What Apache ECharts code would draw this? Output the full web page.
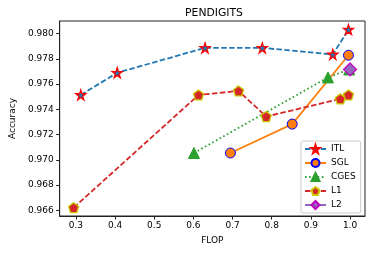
<!DOCTYPE html>
<html><head><meta charset="utf-8">
<script src="https://cdn.jsdelivr.net/npm/echarts@6/dist/echarts.min.js"></script>
<style>html,body{margin:0;padding:0;background:#fff}#c{width:374px;height:253px}</style>
</head><body><div id="c"></div>
<script>
const title = 'PENDIGITS';
const xTicks = [0.3, 0.4, 0.5, 0.6, 0.7, 0.8, 0.9, 1.0];
const yTicks = [0.966, 0.968, 0.970, 0.972, 0.974, 0.976, 0.978, 0.980];
const itlX = [0.3125, 0.4055, 0.6297, 0.7759, 0.956, 0.996];
const itlY = [0.97514, 0.9769, 0.97887, 0.97887, 0.97835, 0.98032];
const sglX = [0.6945, 0.8523, 0.996];
const sglY = [0.97054, 0.97283, 0.97829];
const cgesX = [0.6015, 0.9437, 0.998];
const cgesY = [0.97054, 0.97653, 0.97716];
const l1X = [0.2942, 0.6131, 0.7153, 0.7859, 0.9752, 0.996];
const l1Y = [0.96621, 0.97514, 0.97546, 0.97343, 0.97483, 0.97514];
const l2X = [1.0];
const l2Y = [0.97716];

const zip = (xs, ys) => xs.map((x, i) => [x, ys[i]]);
const STAR = 'path://M50,0 L61.2,34.5 L97.6,34.5 L68.2,55.9 L79.4,90.5 L50,69.1 L20.6,90.5 L31.8,55.9 L2.4,34.5 L38.8,34.5 Z';
const PENT = 'path://M50,0 L97.6,34.5 L79.4,90.5 L20.6,90.5 L2.4,34.5 Z';
const FONT = 'DejaVu Sans';

const chart = echarts.init(document.getElementById('c'), null, {renderer: 'canvas'});
chart.setOption({
  animation: false,
  textStyle: {fontFamily: FONT},
  title: {text: title, left: 209, top: 3, textAlign: 'center',
    textStyle: {fontFamily: FONT, fontSize: 10.8, fontWeight: 'normal', color: '#000'}},
  grid: {left: 53, right: 9, top: 21, bottom: 37, show: true, borderColor: '#222', borderWidth: 1, containLabel: false},
  xAxis: {
    type: 'value', min: 0.2585, max: 1.0382,
    name: 'FLOP', nameLocation: 'middle', nameGap: 20,
    nameTextStyle: {fontFamily: FONT, fontSize: 9, color: '#000'},
    axisLine: {show: true, lineStyle: {color: '#222'}},
    axisTick: {show: true, length: 3.5, lineStyle: {color: '#222'}, customValues: xTicks},
    axisLabel: {fontFamily: FONT, fontSize: 9, color: '#000', margin: 5, customValues: xTicks,
      formatter: v => v.toFixed(1)},
    splitLine: {show: false}
  },
  yAxis: {
    type: 'value', min: 0.96555, max: 0.981,
    name: 'Accuracy', nameLocation: 'middle', nameGap: 42,
    nameTextStyle: {fontFamily: FONT, fontSize: 9, color: '#000'},
    axisLine: {show: true, lineStyle: {color: '#222'}},
    axisTick: {show: true, length: 3.5, lineStyle: {color: '#222'}, customValues: yTicks},
    axisLabel: {fontFamily: FONT, fontSize: 9, color: '#000', margin: 6, customValues: yTicks,
      formatter: v => v.toFixed(3)},
    splitLine: {show: false}
  },
  legend: {
    orient: 'vertical', left: 301, top: 141,
    itemWidth: 21, itemHeight: 10, itemGap: 4,
    padding: [3, 5, 3, 3],
    borderColor: '#ccc', borderWidth: 1, borderRadius: 2, backgroundColor: 'rgba(255,255,255,0.8)',
    textStyle: {fontFamily: FONT, fontSize: 9, color: '#000', lineHeight: 10},
    data: ['ITL', 'SGL', 'CGES', 'L1', 'L2']
  },
  series: [
    {name: 'ITL', type: 'line', data: zip(itlX, itlY), symbol: STAR, symbolSize: 10,
      lineStyle: {color: '#1f77b4', width: 1.8, type: [5.5, 2.4]},
      itemStyle: {color: '#1f77b4', borderColor: '#ff0000', borderWidth: 1.3}},
    {name: 'SGL', type: 'line', data: zip(sglX, sglY), symbol: 'circle', symbolSize: 10,
      lineStyle: {color: '#ff7f0e', width: 1.8, type: 'solid'},
      itemStyle: {color: '#ff7f0e', borderColor: '#0000ff', borderWidth: 1}},
    {name: 'CGES', type: 'line', data: zip(cgesX, cgesY), symbol: 'triangle', symbolSize: 11,
      lineStyle: {color: '#2ca02c', width: 1.8, type: [1.6, 2.6]},
      itemStyle: {color: '#2ca02c', borderColor: '#2ca02c', borderWidth: 1}},
    {name: 'L1', type: 'line', data: zip(l1X, l1Y), symbol: PENT, symbolSize: 10,
      lineStyle: {color: '#d62728', width: 1.8, type: [5.5, 2.4]},
      itemStyle: {color: '#d62728', borderColor: '#c8c800', borderWidth: 1.3}},
    {name: 'L2', type: 'line', data: zip(l2X, l2Y), symbol: 'diamond', symbolSize: 13,
      lineStyle: {color: '#9467bd', width: 1.8},
      itemStyle: {color: '#9467bd', borderColor: '#bf00bf', borderWidth: 1.2}}
  ]
});
</script></body></html>
